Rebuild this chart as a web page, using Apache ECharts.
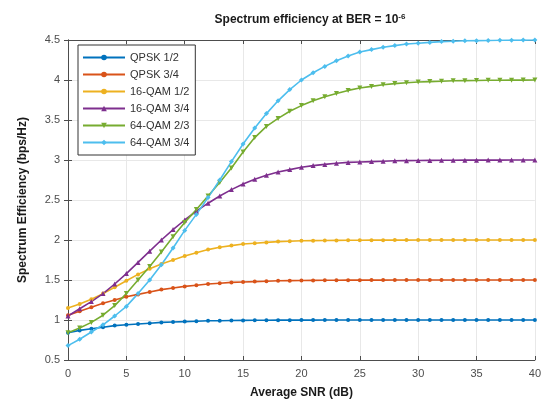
<!DOCTYPE html>
<html>
<head>
<meta charset="utf-8">
<script src="https://cdn.jsdelivr.net/npm/echarts@6/dist/echarts.min.js"></script>
<style>
  html, body { margin: 0; padding: 0; background: #fff; }
  #chart { width: 544px; height: 404px; }
</style>
</head>
<body>
<div id="chart"></div>
<script>
// 平均信噪比 0..40 dB，每 1 dB 一个点
const snr = Array.from({ length: 41 }, (_, i) => i);

const names = ['QPSK 1/2', 'QPSK 3/4', '16-QAM 1/2', '16-QAM 3/4', '64-QAM 2/3', '64-QAM 3/4'];

const qpsk12 = [0.84, 0.87, 0.89, 0.91, 0.93, 0.94, 0.95, 0.96, 0.97, 0.975, 0.98,
  0.985, 0.99, 0.99, 0.993, 0.995, 0.996, 0.997, 0.998, 0.998, 0.999,
  0.999, 1, 1, 1, 1, 1, 1, 1, 1, 1,
  1, 1, 1, 1, 1, 1, 1, 1, 1, 1];
const qpsk34 = [1.06, 1.11, 1.16, 1.21, 1.25, 1.29, 1.32, 1.35, 1.38, 1.40, 1.42,
  1.435, 1.45, 1.46, 1.47, 1.475, 1.48, 1.485, 1.49, 1.492, 1.494,
  1.495, 1.496, 1.497, 1.498, 1.498, 1.499, 1.499, 1.5, 1.5, 1.5,
  1.5, 1.5, 1.5, 1.5, 1.5, 1.5, 1.5, 1.5, 1.5, 1.5];
const qam16_12 = [1.15, 1.20, 1.26, 1.33, 1.41, 1.49, 1.57, 1.64, 1.70, 1.75, 1.80,
  1.84, 1.88, 1.91, 1.93, 1.95, 1.96, 1.97, 1.98, 1.985, 1.99,
  1.992, 1.994, 1.995, 1.996, 1.997, 1.998, 1.998, 1.999, 1.999, 2,
  2, 2, 2, 2, 2, 2, 2, 2, 2, 2];
const qam16_34 = [1.05, 1.14, 1.23, 1.33, 1.45, 1.58, 1.72, 1.86, 2.00, 2.13, 2.25,
  2.36, 2.46, 2.55, 2.63, 2.70, 2.76, 2.81, 2.85, 2.88, 2.91,
  2.93, 2.945, 2.96, 2.97, 2.975, 2.98, 2.985, 2.99, 2.992, 2.994,
  2.995, 2.996, 2.997, 2.998, 2.998, 2.999, 2.999, 3, 3, 3];
const qam64_23 = [0.84, 0.90, 0.97, 1.06, 1.18, 1.33, 1.50, 1.67, 1.85, 2.04, 2.22,
  2.38, 2.55, 2.72, 2.90, 3.10, 3.28, 3.42, 3.52, 3.61, 3.68,
  3.74, 3.79, 3.83, 3.87, 3.90, 3.92, 3.94, 3.955, 3.965, 3.975,
  3.98, 3.985, 3.99, 3.992, 3.994, 3.996, 3.997, 3.998, 3.999, 4];
const qam64_34 = [0.68, 0.76, 0.85, 0.94, 1.05, 1.17, 1.33, 1.50, 1.69, 1.90, 2.12,
  2.32, 2.53, 2.75, 2.98, 3.20, 3.40, 3.58, 3.74, 3.88, 4.00,
  4.09, 4.17, 4.24, 4.30, 4.35, 4.38, 4.41, 4.43, 4.45, 4.46,
  4.47, 4.48, 4.485, 4.49, 4.492, 4.494, 4.496, 4.498, 4.499, 4.5];

const values = [qpsk12, qpsk34, qam16_12, qam16_34, qam64_23, qam64_34];
const colors = ['#0072BD', '#D95319', '#EDB120', '#7E2F8E', '#77AC30', '#4DBEEE'];
const symbols = ['circle', 'circle', 'circle', 'triangle', 'triangle', 'diamond'];
const rotates = [0, 0, 0, 0, 180, 0];

const axisColor = '#4d4d4d';
const font = 'Arial, "Liberation Sans", sans-serif';

function xAxisOf(pos, labels) {
  return {
    type: 'value', position: pos, min: 0, max: 40, interval: 5,
    name: labels ? 'Average SNR (dB)' : '',
    nameLocation: 'middle', nameGap: 27,
    nameTextStyle: { color: '#1a1a1a', fontWeight: 'bold', fontSize: 12, fontFamily: font },
    axisLine: { show: true, lineStyle: { color: axisColor, width: 1 } },
    axisTick: { show: true, inside: true, length: 4, lineStyle: { color: axisColor } },
    axisLabel: { show: labels, color: axisColor, fontSize: 11, fontFamily: font, margin: 8 },
    splitLine: { show: labels, lineStyle: { color: '#e8e8e8', width: 1 } }
  };
}

function yAxisOf(pos, labels) {
  return {
    type: 'value', position: pos, min: 0.5, max: 4.5, interval: 0.5,
    name: labels ? 'Spectrum Efficiency (bps/Hz)' : '',
    nameLocation: 'middle', nameGap: 39,
    nameTextStyle: { color: '#1a1a1a', fontWeight: 'bold', fontSize: 12, fontFamily: font },
    axisLine: { show: true, lineStyle: { color: axisColor, width: 1 } },
    axisTick: { show: true, inside: true, length: 4, lineStyle: { color: axisColor } },
    axisLabel: { show: labels, color: axisColor, fontSize: 11, fontFamily: font, margin: 8 },
    splitLine: { show: labels, lineStyle: { color: '#e8e8e8', width: 1 } }
  };
}

const chart = echarts.init(document.getElementById('chart'), null, { renderer: 'canvas' });
chart.setOption({
  animation: false,
  color: colors,
  title: {
    text: 'Spectrum efficiency at BER = 10{sup|-6}',
    left: 305, top: 8, textAlign: 'center',
    textStyle: {
      fontSize: 12, fontWeight: 'bold', color: '#1a1a1a', fontFamily: font,
      rich: { sup: { fontSize: 8, fontWeight: 'bold', verticalAlign: 'top', padding: [0, 0, 6, 0], color: '#1a1a1a' } }
    }
  },
  grid: { left: 68, right: 5, top: 40, bottom: 42 },
  legend: {
    orient: 'vertical', left: 78, top: 45,
    padding: [6, 6, 6, 4], itemGap: 4, itemWidth: 42, itemHeight: 7,
    backgroundColor: '#fff', borderColor: '#333', borderWidth: 1,
    textStyle: { fontSize: 11, color: '#333', fontFamily: font, lineHeight: 13 },
    data: names
  },
  xAxis: [xAxisOf('bottom', true), xAxisOf('top', false)],
  yAxis: [yAxisOf('left', true), yAxisOf('right', false)],
  series: values.map((v, i) => ({
    name: names[i],
    type: 'line',
    data: snr.map((x, j) => [x, v[j]]),
    symbol: symbols[i],
    symbolSize: i >= 3 ? 5 : 4,
    symbolRotate: rotates[i],
    showAllSymbol: true,
    lineStyle: { width: 1.6, color: colors[i] },
    itemStyle: { color: colors[i] }
  }))
});
</script>
</body>
</html>
